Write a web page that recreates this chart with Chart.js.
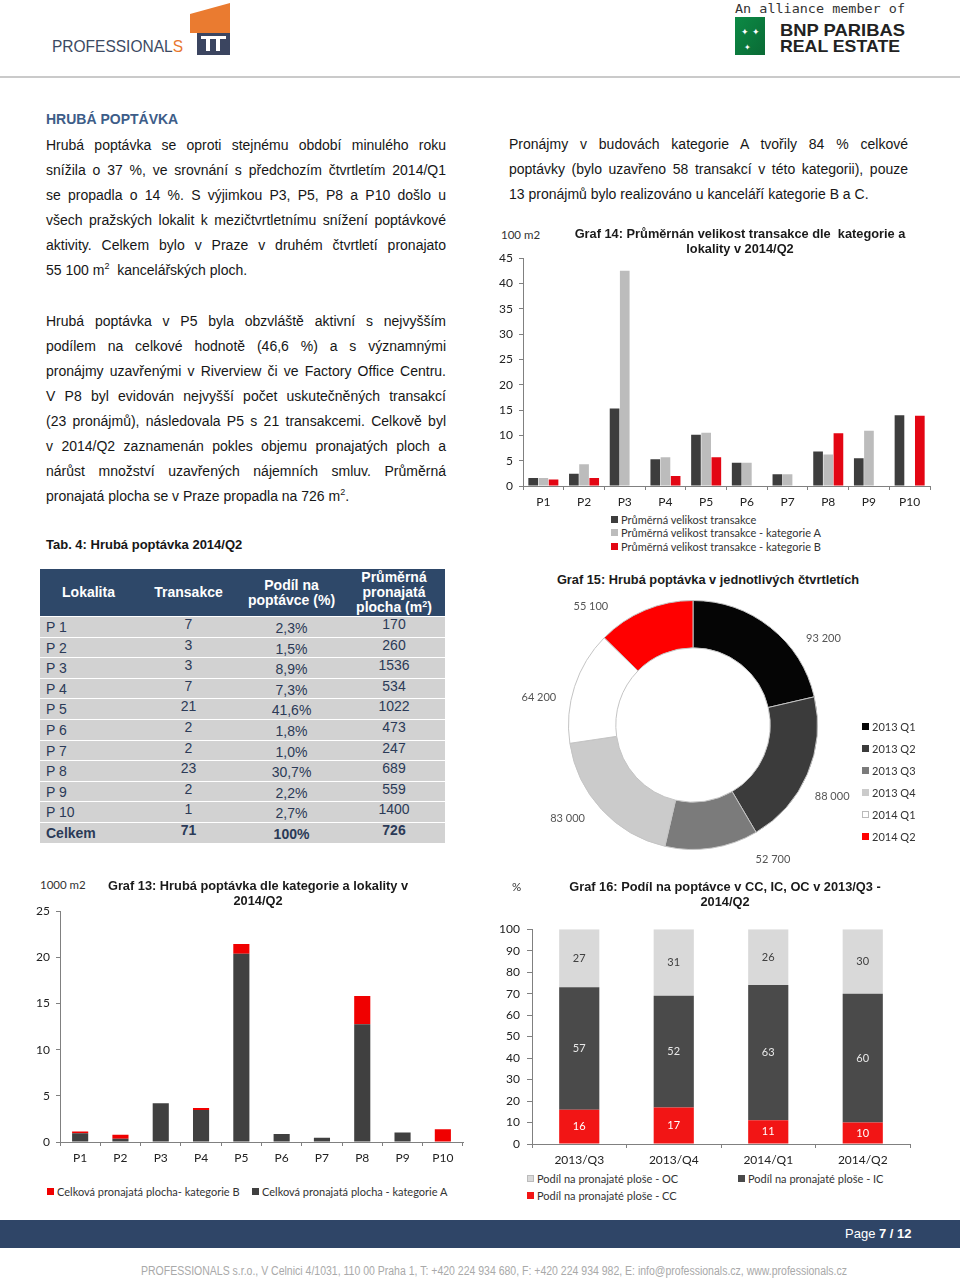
<!doctype html>
<html lang="cs">
<head>
<meta charset="utf-8">
<title>Hrubá poptávka 2014/Q2</title>
<script src="https://cdn.jsdelivr.net/npm/chart.js"></script>
<style>
    html, body { margin: 0; padding: 0; background: #fff; }
    body { width: 960px; height: 1282px; position: relative; overflow: hidden; font-family: "Liberation Sans", Arial, sans-serif; color: #161616; }
    .abs { position: absolute; }
    canvas { position: absolute; }
    .para { position: absolute; font-size: 14px; line-height: 25px; }
    .para div { text-align: justify; text-align-last: justify; white-space: nowrap; }
    .para div.last { text-align-last: left; }
    .para sup { font-size: 9px; line-height: 0; vertical-align: 6px; }
    .title { position: absolute; font-weight: bold; font-size: 12.8px; line-height: 15px; text-align: center; color: #1a1a1a; z-index: 2; }
    .unit { position: absolute; font-family: Lato, sans-serif; font-size: 11.5px; color: #333; z-index: 2; }
    .legend { position: absolute; font-family: Lato, sans-serif; font-size: 11px; color: #333; z-index: 2; }
    .legend .it { position: absolute; white-space: nowrap; display: flex; align-items: center; height: 13px; }
    .legend .sw { width: 7px; height: 7px; margin-right: 3px; }
    .tab { position: absolute; left: 40px; top: 569px; width: 405px; font-size: 14px; color: #2b3a57; }
    .tab .hd { position: absolute; left: 0; top: 0; width: 405px; height: 47px; background: #2e4869; color: #fff; font-weight: bold; }
    .tab .hd > div { position: absolute; top: 0; height: 47px; display: flex; align-items: center; justify-content: center; text-align: center; line-height: 15px; }
    .tab .hd sup { font-size: 9px; line-height: 0; vertical-align: 5px; }
    .tab .row { position: absolute; left: 0; width: 405px; height: 19.6px; background: #d2d2d2; }
    .tab .row div { position: absolute; top: 0; height: 19.6px; line-height: 19.6px; }
</style>
</head>
<body>

<!-- hlavicka -->
<svg class="abs" style="left:0;top:0" width="960" height="80">
    <text x="52" y="52" font-family="Liberation Sans, Arial" font-size="17" fill="#3b4a63" textLength="131" lengthAdjust="spacingAndGlyphs">PROFESSIONAL<tspan fill="#e8772e">S</tspan></text>
    <polygon points="190,14 230,3 230,33 190,33" fill="#ea7b30"/>
    <rect x="197" y="33" width="33" height="22" fill="#3b4560"/>
    <rect x="201" y="36" width="25" height="3" fill="#fff"/>
    <rect x="206" y="39" width="4" height="12" fill="#fff"/>
    <rect x="216" y="39" width="4" height="12" fill="#fff"/>
    <text x="735" y="13" font-family="DejaVu Sans Mono, monospace" font-size="13" fill="#333" textLength="170" lengthAdjust="spacingAndGlyphs">An alliance member of</text>
    <defs><linearGradient id="g" x1="0" y1="0" x2="1" y2="1"><stop offset="0" stop-color="#0c8a45"/><stop offset="1" stop-color="#0a6a35"/></linearGradient></defs>
    <rect x="735" y="17" width="30" height="38" fill="url(#g)"/>
    <text x="741" y="35" font-size="9" fill="#fff">✦ ✦</text>
    <text x="744" y="50" font-size="8" fill="#fff">✦</text>
    <text x="780" y="36" font-family="Liberation Sans, Arial" font-weight="bold" font-size="17" fill="#222" textLength="125" lengthAdjust="spacingAndGlyphs">BNP PARIBAS</text>
    <text x="780" y="52" font-family="Liberation Sans, Arial" font-weight="bold" font-size="17" fill="#222" textLength="120" lengthAdjust="spacingAndGlyphs">REAL ESTATE</text>
    <rect x="0" y="76" width="960" height="2" fill="#cacaca"/>
</svg>

<div class="abs" style="left:46px;top:111px;font-size:14px;font-weight:bold;color:#3d5d88;">HRUBÁ POPTÁVKA</div>

<div class="para" style="left:46px;top:133px;width:400px;">
    <div>Hrubá poptávka se oproti stejnému období minulého roku</div>
    <div>snížila o 37 %, ve srovnání s předchozím čtvrtletím 2014/Q1</div>
    <div>se propadla o 14 %. S výjimkou P3, P5, P8 a P10 došlo u</div>
    <div>všech pražských lokalit k mezičtvrtletnímu snížení poptávkové</div>
    <div>aktivity. Celkem bylo v Praze v druhém čtvrtletí pronajato</div>
    <div class="last">55 100 m<sup>2</sup>&nbsp; kancelářských ploch.</div>
</div>

<div class="para" style="left:46px;top:309px;width:400px;">
    <div>Hrubá poptávka v P5 byla obzvláště aktivní s nejvyšším</div>
    <div>podílem na celkové hodnotě (46,6 %) a s významnými</div>
    <div>pronájmy uzavřenými v Riverview či ve Factory Office Centru.</div>
    <div>V P8 byl evidován nejvyšší počet uskutečněných transakcí</div>
    <div>(23 pronájmů), následovala P5 s 21 transakcemi. Celkově byl</div>
    <div>v 2014/Q2 zaznamenán pokles objemu pronajatých ploch a</div>
    <div>nárůst množství uzavřených nájemních smluv. Průměrná</div>
    <div class="last">pronajatá plocha se v Praze propadla na 726 m<sup>2</sup>.</div>
</div>

<div class="abs" style="left:46px;top:537px;font-size:13px;font-weight:bold;">Tab. 4: Hrubá poptávka 2014/Q2</div>

<div class="para" style="left:509px;top:132px;width:399px;">
    <div>Pronájmy v budovách kategorie A tvořily 84 % celkové</div>
    <div>poptávky (bylo uzavřeno 58 transakcí v této kategorii), pouze</div>
    <div class="last">13 pronájmů bylo realizováno u kanceláří kategorie B a C.</div>
</div>

<div class="tab" id="tab"></div>

<!-- Graf 14 -->
<div class="unit" style="left:501px;top:228px;">100 m2</div>
<div class="title" style="left:545px;top:226px;width:390px;">Graf 14: Průměrnán velikost transakce dle&nbsp; kategorie a<br>lokality v 2014/Q2</div>
<canvas id="graf14" width="440" height="265" style="left:495px;top:245px;"></canvas>
<div class="legend" id="leg14" style="left:611px;top:513px;"></div>

<!-- Graf 15 -->
<div class="title" style="left:530px;top:572px;width:356px;">Graf 15: Hrubá poptávka v jednotlivých čtvrtletích</div>
<canvas id="graf15" width="400" height="280" style="left:495px;top:590px;"></canvas>
<div class="legend" id="leg15" style="left:862px;top:720px;"></div>

<!-- Graf 13 -->
<div class="unit" style="left:40px;top:878px;">1000 m2</div>
<div class="title" style="left:88px;top:878px;width:340px;">Graf 13: Hrubá poptávka dle kategorie a lokality v<br>2014/Q2</div>
<canvas id="graf13" width="438" height="270" style="left:30px;top:898px;"></canvas>
<div class="legend" id="leg13" style="left:47px;top:1185px;"></div>

<!-- Graf 16 -->
<div class="unit" style="left:512px;top:880px;">%</div>
<div class="title" style="left:545px;top:879px;width:360px;">Graf 16: Podíl na poptávce v CC, IC, OC v 2013/Q3 -<br>2014/Q2</div>
<canvas id="graf16" width="420" height="255" style="left:495px;top:915px;"></canvas>
<div class="legend" id="leg16" style="left:527px;top:1172px;"></div>

<!-- paticka -->
<div class="abs" style="left:0;top:1220px;width:960px;height:28px;background:#2f4567;"></div>
<div class="abs" style="left:845px;top:1226px;color:#fff;font-size:13px;">Page <b>7 / 12</b></div>
<div class="abs" style="left:0;top:1264px;width:988px;text-align:center;color:#a9a9a9;font-size:12px;transform:scaleX(0.875);transform-origin:494px 0;white-space:nowrap;">PROFESSIONALS s.r.o., V Celnici 4/1031, 110 00 Praha 1, T: +420 224 934 680, F: +420 224 934 982, E: info@professionals.cz, www.professionals.cz</div>

<script>
    // tabulka 4
    const tabLokality = ['P 1', 'P 2', 'P 3', 'P 4', 'P 5', 'P 6', 'P 7', 'P 8', 'P 9', 'P 10'];
    const tabTransakce = [7, 3, 3, 7, 21, 2, 2, 23, 2, 1];
    const tabPodil = ['2,3%', '1,5%', '8,9%', '7,3%', '41,6%', '1,8%', '1,0%', '30,7%', '2,2%', '2,7%'];
    const tabPlocha = [170, 260, 1536, 534, 1022, 473, 247, 689, 559, 1400];
    const tabCelkem = ['Celkem', 71, '100%', 726];

    // graf 14 (100 m2)
    const lokality = ['P1', 'P2', 'P3', 'P4', 'P5', 'P6', 'P7', 'P8', 'P9', 'P10'];
    const prumerVelikost = [1.6, 2.4, 15.3, 5.3, 10.1, 4.6, 2.3, 6.8, 5.5, 14.0];
    const prumerKatA = [1.6, 4.3, 42.5, 5.7, 10.5, 4.6, 2.3, 6.2, 10.9, null];
    const prumerKatB = [1.3, 1.6, null, 2.0, 5.7, null, null, 10.4, null, 13.9];

    // graf 15
    const ctvrtleti = ['2013 Q1', '2013 Q2', '2013 Q3', '2013 Q4', '2014 Q1', '2014 Q2'];
    const poptavka = [93200, 88000, 52700, 83000, 64200, 55100];

    // graf 13 (1000 m2)
    const plochaKatA = [0.94, 0.36, 4.2, 3.47, 20.4, 0.86, 0.46, 12.75, 1.04, 0];
    const plochaKatB = [0.2, 0.43, 0, 0.2, 1.05, 0, 0, 3.07, 0, 1.39];

    // graf 16 (%)
    const obdobi = ['2013/Q3', '2013/Q4', '2014/Q1', '2014/Q2'];
    const podilCC = [16, 17, 11, 10];
    const podilIC = [57, 52, 63, 60];
    const podilOC = [27, 31, 26, 30];

    // --- tabulka
    const tab = document.getElementById('tab');
    const cols = [[0, 97], [97, 103], [200, 103], [303, 102]];
    let hd = '<div class="hd">';
    ['Lokalita', 'Transakce', 'Podíl na<br>poptávce (%)', 'Průměrná<br>pronajatá<br>plocha (m<sup>2</sup>)'].forEach((t, i) => {
        hd += `<div style="left:${cols[i][0]}px;width:${cols[i][1]}px"><span>${t}</span></div>`;
    });
    hd += '</div>';
    tab.innerHTML = hd;
    const rows = tabLokality.map((l, i) => [l, tabTransakce[i], tabPodil[i], tabPlocha[i]]);
    rows.push(tabCelkem);
    rows.forEach((r, i) => {
        const row = document.createElement('div');
        row.className = 'row';
        row.style.top = (48 + i * 20.6) + 'px';
        if (i === rows.length - 1) row.style.fontWeight = 'bold';
        const shift = [1, -2, 2, -2];
        row.innerHTML = r.map((v, c) => {
            const align = c === 0 ? 'left' : 'center';
            const pad = c === 0 ? 'padding-left:6px;' : '';
            return `<div style="left:${cols[c][0]}px;width:${cols[c][1] - (c === 0 ? 6 : 0)}px;${pad}text-align:${align};top:${shift[c]}px">${v}</div>`;
        }).join('');
        tab.appendChild(row);
    });

    // --- spolecne
    Chart.defaults.font.family = 'Lato';
    Chart.defaults.color = '#333';

    function legendHtml(id, items) {
        const el = document.getElementById(id);
        el.innerHTML = items.map(it =>
            `<div class="it" style="left:${it.x}px;top:${it.y}px"><span class="sw" style="background:${it.color};${it.border ? 'box-shadow:inset 0 0 0 1px #bbb;' : ''}"></span>${it.label}</div>`
        ).join('');
    }

    function barChart(id, labels, datasets, o) {
        return new Chart(document.getElementById(id), {
            type: 'bar',
            data: { labels: labels, datasets: datasets },
            plugins: o.plugins || [],
            options: {
                responsive: false,
                animation: false,
                layout: { padding: o.padding },
                plugins: { legend: { display: false }, tooltip: { enabled: false } },
                datasets: { bar: { categoryPercentage: o.catPct, barPercentage: o.barPct } },
                scales: {
                    x: {
                        stacked: !!o.stacked,
                        afterFit: s => { s.height = o.xHeight; },
                        grid: { drawOnChartArea: false, tickLength: 4, color: '#808080', offset: true },
                        border: { color: '#808080' },
                        ticks: { font: { size: 12 }, color: '#222', padding: o.xPad }
                    },
                    y: {
                        stacked: !!o.stacked,
                        min: 0, max: o.max,
                        afterFit: s => { s.width = o.yWidth; },
                        grid: { drawOnChartArea: false, tickLength: o.yTick, color: '#808080' },
                        border: { color: '#808080' },
                        ticks: { stepSize: o.step, font: { size: 12 }, color: '#222', padding: o.yPad }
                    }
                }
            }
        });
    }

    // --- graf 14
    const col14 = ['#3d3d3d', '#bcbcbc', '#e30613'];
    const lab14 = ['Průměrná velikost transakce', 'Průměrná velikost transakce - kategorie A', 'Průměrná velikost transakce - kategorie B'];
    barChart('graf14', lokality, [
        { label: lab14[0], data: prumerVelikost, backgroundColor: col14[0] },
        { label: lab14[1], data: prumerKatA, backgroundColor: col14[1] },
        { label: lab14[2], data: prumerKatB, backgroundColor: col14[2] }
    ], { padding: { top: 12, right: 5, left: 0, bottom: 0 }, xHeight: 24, yWidth: 28, yTick: 4, yPad: 6, xPad: 5, max: 45, step: 5, catPct: 0.75, barPct: 0.95 });
    legendHtml('leg14', lab14.map((l, i) => ({ label: l, color: col14[i], x: 0, y: i * 13.3 })));

    // --- graf 15
    const col15 = ['#050505', '#3b3b3b', '#7b7b7b', '#cbcbcb', '#ffffff', '#ff0000'];
    const fmtTis = v => String(v).replace(/\B(?=(\d{3})+(?!\d))/g, ' ');
    const donutLabels = {
        id: 'donutLabels',
        afterDatasetsDraw(chart, args, opts) {
            const ctx = chart.ctx;
            const meta = chart.getDatasetMeta(0);
            ctx.save();
            ctx.font = '11px Lato';
            ctx.fillStyle = '#555';
            ctx.textAlign = 'center';
            ctx.textBaseline = 'middle';
            meta.data.forEach((arc, i) => {
                const p = arc.getProps(['x', 'y', 'startAngle', 'endAngle', 'outerRadius'], true);
                const a = (p.startAngle + p.endAngle) / 2 + opts.nudge[i] * Math.PI / 180;
                const r = p.outerRadius + opts.distance;
                ctx.fillText(fmtTis(chart.data.datasets[0].data[i]), p.x + Math.cos(a) * r, p.y + Math.sin(a) * r);
            });
            ctx.restore();
        }
    };
    new Chart(document.getElementById('graf15'), {
        type: 'doughnut',
        data: { labels: ctvrtleti, datasets: [{ data: poptavka, backgroundColor: col15, borderColor: '#c4c4c4', borderWidth: 1 }] },
        plugins: [donutLabels],
        options: {
            responsive: false,
            animation: false,
            cutout: '62%',
            layout: { padding: { left: 73, right: 77, top: 10, bottom: 20 } },
            plugins: {
                legend: { display: false },
                tooltip: { enabled: false },
                donutLabels: { distance: 32, nudge: [18, 4, -22, 6, -8, -18] }
            }
        }
    });
    legendHtml('leg15', ctvrtleti.map((l, i) => ({ label: l, color: col15[i], border: i === 4, x: 0, y: i * 22 })));

    // --- graf 13
    const col13 = ['#404040', '#f00000'];
    barChart('graf13', lokality, [
        { label: 'Celková pronajatá plocha - kategorie A', data: plochaKatA, backgroundColor: col13[0] },
        { label: 'Celková pronajatá plocha- kategorie B', data: plochaKatB, backgroundColor: col13[1] }
    ], { stacked: true, padding: { top: 10, right: 5, left: 0, bottom: 0 }, xHeight: 26, yWidth: 30, yTick: 4, yPad: 6, xPad: 5, max: 25, step: 5, catPct: 0.8, barPct: 0.5 });
    legendHtml('leg13', [
        { label: 'Celková pronajatá plocha- kategorie B', color: col13[1], x: 0, y: 0 },
        { label: 'Celková pronajatá plocha - kategorie A', color: col13[0], x: 205, y: 0 }
    ]);

    // --- graf 16
    const col16 = ['#f21515', '#4a4a4a', '#d9d9d9'];
    const txt16 = ['#ffffff', '#e8e8e8', '#404040'];
    const barLabels = {
        id: 'barLabels',
        afterDatasetsDraw(chart) {
            const ctx = chart.ctx;
            ctx.save();
            ctx.font = '11px Lato';
            ctx.textAlign = 'center';
            ctx.textBaseline = 'middle';
            chart.data.datasets.forEach((ds, di) => {
                chart.getDatasetMeta(di).data.forEach((bar, i) => {
                    const p = bar.getProps(['x', 'y', 'base'], true);
                    ctx.fillStyle = txt16[di];
                    ctx.fillText(ds.data[i], p.x, (p.y + p.base) / 2);
                });
            });
            ctx.restore();
        }
    };
    barChart('graf16', obdobi, [
        { label: 'Podíl na pronajaté ploše - CC', data: podilCC, backgroundColor: col16[0] },
        { label: 'Podíl na pronajaté ploše - IC', data: podilIC, backgroundColor: col16[1] },
        { label: 'Podíl na pronajaté ploše - OC', data: podilOC, backgroundColor: col16[2] }
    ], { stacked: true, plugins: [barLabels], padding: { top: 10, right: 5, left: 0, bottom: 0 }, xHeight: 26, yWidth: 37, yTick: 5, yPad: 7, xPad: 5, max: 100, step: 10, catPct: 0.85, barPct: 0.5 });
    legendHtml('leg16', [
        { label: 'Podíl na pronajaté ploše - OC', color: col16[2], border: true, x: 0, y: 0 },
        { label: 'Podíl na pronajaté ploše - IC', color: col16[1], x: 211, y: 0 },
        { label: 'Podíl na pronajaté ploše - CC', color: col16[0], x: 0, y: 17 }
    ]);
</script>
</body>
</html>
